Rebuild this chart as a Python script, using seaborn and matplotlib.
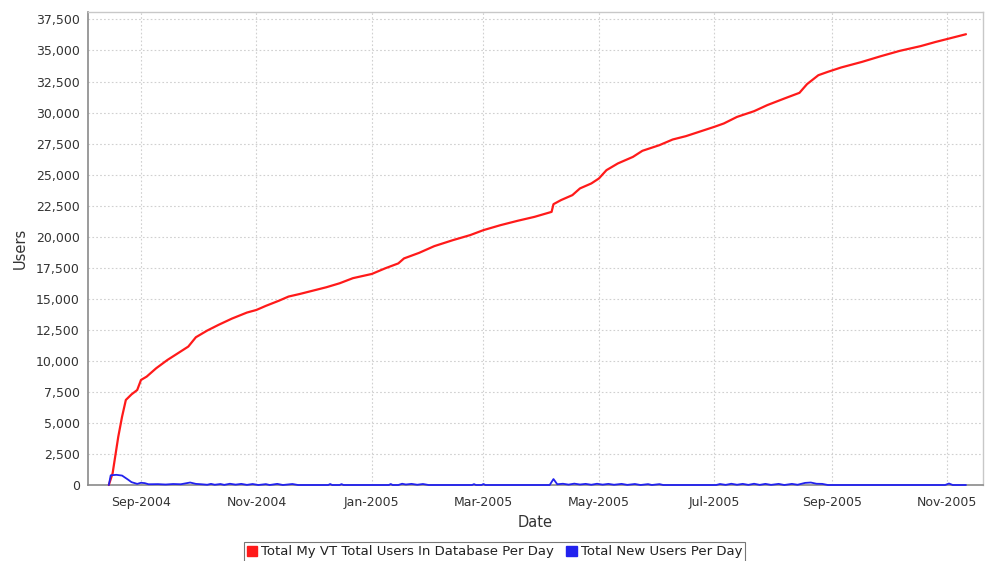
import numpy as np
import pandas as pd
import matplotlib
matplotlib.use("Agg")
import matplotlib.pyplot as plt
import matplotlib.dates as mdates
from matplotlib.ticker import FuncFormatter, MultipleLocator
from matplotlib.patches import Patch
import seaborn as sns

# ---------------- data ----------------
total_dates = ["2004-08-15", "2004-08-17", "2004-08-20", "2004-08-22", "2004-08-24",
               "2004-08-27", "2004-08-30", "2004-09-01", "2004-09-04", "2004-09-09",
               "2004-09-15", "2004-09-21", "2004-09-26", "2004-09-30", "2004-10-06",
               "2004-10-12", "2004-10-19", "2004-10-27", "2004-11-01", "2004-11-06",
               "2004-11-13", "2004-11-18", "2004-11-24", "2004-12-01", "2004-12-08",
               "2004-12-15", "2004-12-22", "2005-01-01", "2005-01-08", "2005-01-15",
               "2005-01-18", "2005-01-26", "2005-02-03", "2005-02-13", "2005-02-22",
               "2005-03-01", "2005-03-10", "2005-03-19", "2005-03-28", "2005-04-06",
               "2005-04-07", "2005-04-11", "2005-04-17", "2005-04-21", "2005-04-27",
               "2005-05-01", "2005-05-05", "2005-05-11", "2005-05-19", "2005-05-24",
               "2005-06-02", "2005-06-09", "2005-06-16", "2005-06-23", "2005-07-01",
               "2005-07-06", "2005-07-13", "2005-07-22", "2005-07-29", "2005-08-07",
               "2005-08-15", "2005-08-19", "2005-08-25", "2005-08-30", "2005-09-06",
               "2005-09-17", "2005-09-27", "2005-10-07", "2005-10-18", "2005-10-26",
               "2005-11-02", "2005-11-11"]
total_users = [0, 940, 3890, 5500, 6850,
               7300, 7650, 8460, 8730, 9400,
               10075, 10660, 11150, 11900, 12440,
               12900, 13400, 13890, 14100, 14430,
               14850, 15180, 15390, 15660, 15930,
               16250, 16660, 17000, 17450, 17850,
               18250, 18700, 19240, 19730, 20130,
               20530, 20930, 21280, 21600, 22000,
               22620, 22950, 23350, 23890, 24290,
               24690, 25360, 25900, 26430, 26920,
               27375, 27830, 28100, 28450, 28850,
               29120, 29650, 30110, 30600, 31130,
               31590, 32290, 33010, 33280, 33630,
               34080, 34540, 34970, 35350, 35690,
               35960, 36310]

new_dates = ["2004-08-15", "2004-08-16", "2004-08-19", "2004-08-22", "2004-08-25",
             "2004-08-27", "2004-08-30", "2004-09-01", "2004-09-03", "2004-09-05",
             "2004-09-10", "2004-09-14", "2004-09-18", "2004-09-22", "2004-09-27",
             "2004-09-30", "2004-10-03", "2004-10-06", "2004-10-08", "2004-10-10",
             "2004-10-13", "2004-10-15", "2004-10-18", "2004-10-21", "2004-10-24",
             "2004-10-27", "2004-10-30", "2004-11-02", "2004-11-06", "2004-11-08",
             "2004-11-12", "2004-11-15", "2004-11-20", "2004-11-23", "2004-12-09",
             "2004-12-10", "2004-12-11", "2004-12-15", "2004-12-16", "2004-12-17",
             "2005-01-10", "2005-01-11", "2005-01-12", "2005-01-15", "2005-01-17",
             "2005-01-19", "2005-01-22", "2005-01-25", "2005-01-28", "2005-01-31",
             "2005-02-23", "2005-02-24", "2005-02-25", "2005-02-28", "2005-03-01",
             "2005-03-02", "2005-04-05", "2005-04-07", "2005-04-09", "2005-04-12",
             "2005-04-15", "2005-04-18", "2005-04-21", "2005-04-24", "2005-04-27",
             "2005-04-30", "2005-05-03", "2005-05-06", "2005-05-09", "2005-05-13",
             "2005-05-16", "2005-05-20", "2005-05-23", "2005-05-27", "2005-05-29",
             "2005-06-02", "2005-06-04", "2005-07-02", "2005-07-04", "2005-07-07",
             "2005-07-10", "2005-07-13", "2005-07-16", "2005-07-19", "2005-07-22",
             "2005-07-25", "2005-07-28", "2005-07-31", "2005-08-04", "2005-08-07",
             "2005-08-11", "2005-08-14", "2005-08-18", "2005-08-21", "2005-08-24",
             "2005-08-27", "2005-08-30", "2005-10-31", "2005-11-02", "2005-11-04",
             "2005-11-11"]
new_users = [0, 780, 820, 760, 450,
             230, 90, 180, 150, 60,
             70, 40, 80, 60, 200,
             90, 60, 20, 90, 20,
             80, 10, 100, 30, 90,
             10, 80, 0, 70, 0,
             90, 0, 80, 0, 0,
             80, 0, 0, 70, 0,
             0, 80, 0, 0, 100,
             40, 90, 20, 80, 0,
             0, 70, 0, 0, 80,
             0, 0, 480, 60, 100,
             30, 110, 40, 90, 20,
             100, 30, 90, 20, 90,
             10, 80, 0, 70, 0,
             70, 0, 0, 80, 10,
             100, 20, 90, 10, 100,
             10, 90, 10, 90, 0,
             90, 20, 170, 200, 100,
             90, 0, 0, 120, 0,
             0]

series_labels = ["Total My VT Total Users In Database Per Day", "Total New Users Per Day"]
series_colors = ["#ff1a1a", "#2222ee"]

df_total = pd.DataFrame({"Date": pd.to_datetime(total_dates), "Users": total_users})
df_new = pd.DataFrame({"Date": pd.to_datetime(new_dates), "Users": new_users})

# ---------------- plot ----------------
sns.set_style("white")
plt.rcParams['font.family'] = ['DejaVu Sans']

fig = plt.figure(figsize=(9.89, 5.61), dpi=100)
ax = fig.add_axes([88 / 989, 1 - 485 / 561, (983 - 88) / 989, (485 - 12) / 561])

sns.lineplot(data=df_total, x="Date", y="Users", color=series_colors[0], linewidth=1.6, ax=ax)
sns.lineplot(data=df_new, x="Date", y="Users", color=series_colors[1], linewidth=1.3, ax=ax)
for ln in ax.get_lines():
    ln.set_clip_on(False)
    ln.set_zorder(5)

ax.set_xlim(pd.Timestamp("2004-08-04"), pd.Timestamp("2005-11-20"))
ax.set_ylim(0, 38100)

ax.yaxis.set_major_locator(MultipleLocator(2500))
ax.yaxis.set_major_formatter(FuncFormatter(lambda v, p: f"{v:,.0f}"))
ax.xaxis.set_major_locator(mdates.MonthLocator(bymonth=[1, 3, 5, 7, 9, 11]))
ax.xaxis.set_major_formatter(mdates.DateFormatter("%b-%Y"))

ax.grid(True, color="#d0d0d0", linestyle=(0, (1.5, 2)), linewidth=0.8)
ax.set_axisbelow(True)

for side in ["left", "bottom"]:
    ax.spines[side].set_color("#8a8a8a")
    ax.spines[side].set_linewidth(1.2)
for side in ["top", "right"]:
    ax.spines[side].set_color("#c8c8c8")
    ax.spines[side].set_linewidth(1.0)

ax.tick_params(axis="both", which="major", direction="out", length=3, width=0.8,
               color="#8a8a8a", labelsize=9, labelcolor="#333333", pad=3)
ax.tick_params(axis="x", pad=5)

ax.set_xlabel("Date", fontsize=10.5, color="#333333", labelpad=4)
ax.set_ylabel("Users", fontsize=10.5, color="#333333", labelpad=6)

handles = [Patch(facecolor=c, edgecolor=c) for c in series_colors]
leg = fig.legend(handles, series_labels, loc="upper center", bbox_to_anchor=(0.5, 1 - 542 / 561),
                 ncol=2, fontsize=9.5, frameon=True, fancybox=False, handlelength=0.8,
                 handleheight=0.8, handletextpad=0.3, columnspacing=0.9, borderpad=0.25,
                 borderaxespad=0)
leg.get_frame().set_edgecolor("#555555")
leg.get_frame().set_linewidth(0.8)
for t in leg.get_texts():
    t.set_color("#222222")

fig.savefig("out.png", dpi=100)
